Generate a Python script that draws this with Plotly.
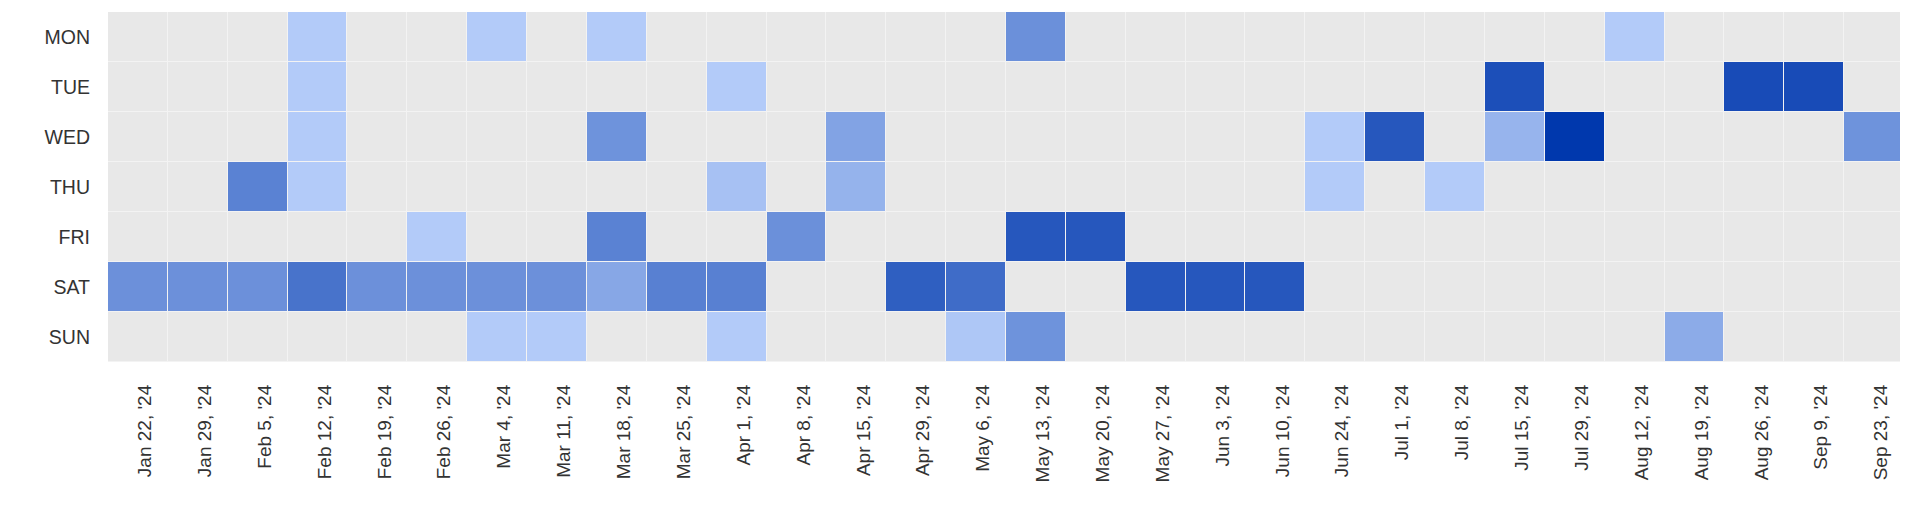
import plotly.graph_objects as go

weeks = ["Jan 22, '24", "Jan 29, '24", "Feb 5, '24", "Feb 12, '24", "Feb 19, '24", "Feb 26, '24",
         "Mar 4, '24", "Mar 11, '24", "Mar 18, '24", "Mar 25, '24", "Apr 1, '24", "Apr 8, '24",
         "Apr 15, '24", "Apr 29, '24", "May 6, '24", "May 13, '24", "May 20, '24", "May 27, '24",
         "Jun 3, '24", "Jun 10, '24", "Jun 24, '24", "Jul 1, '24", "Jul 8, '24", "Jul 15, '24",
         "Jul 29, '24", "Aug 12, '24", "Aug 19, '24", "Aug 26, '24", "Sep 9, '24", "Sep 23, '24"]
days = ["MON", "TUE", "WED", "THU", "FRI", "SAT", "SUN"]

# activity values per day (0 = none), one list per weekday across the weeks
mon = [0, 0, 0, 1, 0, 0, 1, 0, 1, 0, 0, 0, 0, 0, 0, 8.7, 0, 0, 0, 0, 0, 0, 0, 0, 0, 1, 0, 0, 0, 0]
tue = [0, 0, 0, 1, 0, 0, 0, 0, 0, 0, 1, 0, 0, 0, 0, 0, 0, 0, 0, 0, 0, 0, 0, 17, 0, 0, 0, 17.5, 17.5, 0]
wed = [0, 0, 0, 1, 0, 0, 0, 0, 8.3, 0, 0, 0, 6.2, 0, 0, 0, 0, 0, 0, 0, 1, 16, 0, 4, 20, 0, 0, 0, 0, 8.3]
thu = [0, 0, 10.5, 1, 0, 0, 0, 0, 0, 0, 2.3, 0, 4.2, 0, 0, 0, 0, 0, 0, 0, 1, 0, 1, 0, 0, 0, 0, 0, 0, 0]
fri = [0, 0, 0, 0, 0, 1, 0, 0, 10.5, 0, 0, 8.7, 0, 0, 0, 16, 16, 0, 0, 0, 0, 0, 0, 0, 0, 0, 0, 0, 0, 0]
sat = [8.6, 8.6, 8.6, 12.4, 8.6, 8.6, 8.6, 8.6, 5.7, 10.7, 10.7, 0, 0, 15, 13.3, 0, 0, 16, 16, 16, 0, 0, 0, 0, 0, 0, 0, 0, 0, 0]
sun = [0, 0, 0, 0, 0, 0, 1, 1, 0, 0, 1, 0, 0, 0, 1.6, 8.3, 0, 0, 0, 0, 0, 0, 0, 0, 0, 0, 5.2, 0, 0, 0]

z = [mon, tue, wed, thu, fri, sat, sun]

zmax = 20
eps = 0.02
colorscale = [
    [0.0, "#e8e8e8"], [eps, "#e8e8e8"],
    [eps + 1e-6, "#b9d0fb"], [1.0, "#0038ad"],
]

fig = go.Figure(go.Heatmap(
    z=z, x=weeks, y=days,
    zmin=0, zmax=zmax,
    colorscale=colorscale,
    showscale=False,
    xgap=1, ygap=1,
    hoverongaps=False,
))

fig.update_layout(
    width=1900, height=504,
    margin=dict(l=100, r=4, t=4, b=150),
    paper_bgcolor="white",
    plot_bgcolor="#f3f3f3",
    font=dict(family="Liberation Sans, Arial, sans-serif", color="#333333"),
)
fig.update_xaxes(
    type="category", tickangle=-90, tickfont=dict(size=19, color="#333333"),
    showgrid=False, zeroline=False, showline=False, ticks="", ticklabelstandoff=18,
    ticklabelshift=7,
)
fig.update_yaxes(
    type="category", autorange="reversed", tickfont=dict(size=19.5, color="#333333"),
    showgrid=False, zeroline=False, showline=False, ticks="", ticklabelstandoff=17,
)

fig.write_html("out.html")
